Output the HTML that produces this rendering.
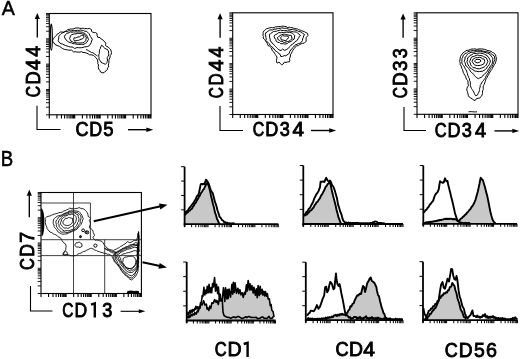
<!DOCTYPE html>
<html><head><meta charset="utf-8"><style>
html,body{margin:0;padding:0;background:#fff;}
svg{display:block;will-change:transform;}
text{font-family:"Liberation Sans",sans-serif;}
</style></head><body>
<svg width="520" height="359" viewBox="0 0 520 359">
<rect width="520" height="359" fill="#fff"/>
<text transform="translate(1.71,15.25) scale(0.9634,1)" font-size="20.35" font-weight="normal" fill="#000" stroke="#000" stroke-width="0.5">A</text>
<text transform="translate(0.77,166.20) scale(0.8765,1)" font-size="21.22" font-weight="normal" fill="#000" stroke="#000" stroke-width="0.6">B</text>
<rect x="49.30" y="13.50" width="101.70" height="101.30" fill="none" stroke="#000" stroke-width="1.1"/>
<path d="M49.30,114.80v3.6 M56.95,114.80v3.6 M61.43,114.80v3.6 M64.61,114.80v3.6 M67.07,114.80v3.6 M69.08,114.80v3.6 M70.79,114.80v3.6 M72.26,114.80v3.6 M73.56,114.80v3.6 M74.72,114.80v3.6 M82.38,114.80v3.6 M86.86,114.80v3.6 M90.03,114.80v3.6 M92.50,114.80v3.6 M94.51,114.80v3.6 M96.21,114.80v3.6 M97.69,114.80v3.6 M98.99,114.80v3.6 M100.15,114.80v3.6 M107.80,114.80v3.6 M112.28,114.80v3.6 M115.46,114.80v3.6 M117.92,114.80v3.6 M119.93,114.80v3.6 M121.64,114.80v3.6 M123.11,114.80v3.6 M124.41,114.80v3.6 M125.58,114.80v3.6 M133.23,114.80v3.6 M137.71,114.80v3.6 M140.88,114.80v3.6 M143.35,114.80v3.6 M145.36,114.80v3.6 M147.06,114.80v3.6 M148.54,114.80v3.6 M149.84,114.80v3.6 M151.00,114.80v3.6" stroke="#000" stroke-width="1.1" fill="none"/>
<path d="M49.30,114.80h-3.3 M49.30,107.18h-3.3 M49.30,102.72h-3.3 M49.30,99.55h-3.3 M49.30,97.10h-3.3 M49.30,95.09h-3.3 M49.30,93.40h-3.3 M49.30,91.93h-3.3 M49.30,90.63h-3.3 M49.30,89.47h-3.3 M49.30,81.85h-3.3 M49.30,77.39h-3.3 M49.30,74.23h-3.3 M49.30,71.77h-3.3 M49.30,69.77h-3.3 M49.30,68.07h-3.3 M49.30,66.60h-3.3 M49.30,65.31h-3.3 M49.30,64.15h-3.3 M49.30,56.53h-3.3 M49.30,52.07h-3.3 M49.30,48.90h-3.3 M49.30,46.45h-3.3 M49.30,44.44h-3.3 M49.30,42.75h-3.3 M49.30,41.28h-3.3 M49.30,39.98h-3.3 M49.30,38.83h-3.3 M49.30,31.20h-3.3 M49.30,26.74h-3.3 M49.30,23.58h-3.3 M49.30,21.12h-3.3 M49.30,19.12h-3.3 M49.30,17.42h-3.3 M49.30,15.95h-3.3 M49.30,14.66h-3.3 M49.30,13.50h-3.3" stroke="#000" stroke-width="0.9" fill="none"/>
<rect x="232.70" y="12.80" width="100.30" height="101.70" fill="none" stroke="#000" stroke-width="1.1"/>
<path d="M232.70,114.50v3.6 M240.25,114.50v3.6 M244.66,114.50v3.6 M247.80,114.50v3.6 M250.23,114.50v3.6 M252.21,114.50v3.6 M253.89,114.50v3.6 M255.34,114.50v3.6 M256.63,114.50v3.6 M257.77,114.50v3.6 M265.32,114.50v3.6 M269.74,114.50v3.6 M272.87,114.50v3.6 M275.30,114.50v3.6 M277.29,114.50v3.6 M278.97,114.50v3.6 M280.42,114.50v3.6 M281.70,114.50v3.6 M282.85,114.50v3.6 M290.40,114.50v3.6 M294.81,114.50v3.6 M297.95,114.50v3.6 M300.38,114.50v3.6 M302.36,114.50v3.6 M304.04,114.50v3.6 M305.49,114.50v3.6 M306.78,114.50v3.6 M307.93,114.50v3.6 M315.47,114.50v3.6 M319.89,114.50v3.6 M323.02,114.50v3.6 M325.45,114.50v3.6 M327.44,114.50v3.6 M329.12,114.50v3.6 M330.57,114.50v3.6 M331.85,114.50v3.6 M333.00,114.50v3.6" stroke="#000" stroke-width="1.1" fill="none"/>
<path d="M232.70,114.50h-3.3 M232.70,106.85h-3.3 M232.70,102.37h-3.3 M232.70,99.19h-3.3 M232.70,96.73h-3.3 M232.70,94.72h-3.3 M232.70,93.01h-3.3 M232.70,91.54h-3.3 M232.70,90.24h-3.3 M232.70,89.08h-3.3 M232.70,81.42h-3.3 M232.70,76.94h-3.3 M232.70,73.77h-3.3 M232.70,71.30h-3.3 M232.70,69.29h-3.3 M232.70,67.59h-3.3 M232.70,66.11h-3.3 M232.70,64.81h-3.3 M232.70,63.65h-3.3 M232.70,56.00h-3.3 M232.70,51.52h-3.3 M232.70,48.34h-3.3 M232.70,45.88h-3.3 M232.70,43.87h-3.3 M232.70,42.16h-3.3 M232.70,40.69h-3.3 M232.70,39.39h-3.3 M232.70,38.22h-3.3 M232.70,30.57h-3.3 M232.70,26.09h-3.3 M232.70,22.92h-3.3 M232.70,20.45h-3.3 M232.70,18.44h-3.3 M232.70,16.74h-3.3 M232.70,15.26h-3.3 M232.70,13.96h-3.3 M232.70,12.80h-3.3" stroke="#000" stroke-width="0.9" fill="none"/>
<rect x="417.00" y="12.80" width="101.00" height="101.50" fill="none" stroke="#000" stroke-width="1.1"/>
<path d="M417.00,114.30v3.6 M424.60,114.30v3.6 M429.05,114.30v3.6 M432.20,114.30v3.6 M434.65,114.30v3.6 M436.65,114.30v3.6 M438.34,114.30v3.6 M439.80,114.30v3.6 M441.09,114.30v3.6 M442.25,114.30v3.6 M449.85,114.30v3.6 M454.30,114.30v3.6 M457.45,114.30v3.6 M459.90,114.30v3.6 M461.90,114.30v3.6 M463.59,114.30v3.6 M465.05,114.30v3.6 M466.34,114.30v3.6 M467.50,114.30v3.6 M475.10,114.30v3.6 M479.55,114.30v3.6 M482.70,114.30v3.6 M485.15,114.30v3.6 M487.15,114.30v3.6 M488.84,114.30v3.6 M490.30,114.30v3.6 M491.59,114.30v3.6 M492.75,114.30v3.6 M500.35,114.30v3.6 M504.80,114.30v3.6 M507.95,114.30v3.6 M510.40,114.30v3.6 M512.40,114.30v3.6 M514.09,114.30v3.6 M515.55,114.30v3.6 M516.84,114.30v3.6 M518.00,114.30v3.6" stroke="#000" stroke-width="1.1" fill="none"/>
<path d="M417.00,114.30h-3.3 M417.00,106.66h-3.3 M417.00,102.19h-3.3 M417.00,99.02h-3.3 M417.00,96.56h-3.3 M417.00,94.55h-3.3 M417.00,92.86h-3.3 M417.00,91.38h-3.3 M417.00,90.09h-3.3 M417.00,88.92h-3.3 M417.00,81.29h-3.3 M417.00,76.82h-3.3 M417.00,73.65h-3.3 M417.00,71.19h-3.3 M417.00,69.18h-3.3 M417.00,67.48h-3.3 M417.00,66.01h-3.3 M417.00,64.71h-3.3 M417.00,63.55h-3.3 M417.00,55.91h-3.3 M417.00,51.44h-3.3 M417.00,48.27h-3.3 M417.00,45.81h-3.3 M417.00,43.80h-3.3 M417.00,42.11h-3.3 M417.00,40.63h-3.3 M417.00,39.34h-3.3 M417.00,38.17h-3.3 M417.00,30.54h-3.3 M417.00,26.07h-3.3 M417.00,22.90h-3.3 M417.00,20.44h-3.3 M417.00,18.43h-3.3 M417.00,16.73h-3.3 M417.00,15.26h-3.3 M417.00,13.96h-3.3 M417.00,12.80h-3.3" stroke="#000" stroke-width="0.9" fill="none"/>
<line x1="37.30" y1="37.50" x2="37.30" y2="18.50" stroke="#000" stroke-width="1.35"/>
<path d="M37.30,13.00L34.70,19.00L39.90,19.00Z" fill="#000"/>
<line x1="220.10" y1="37.80" x2="220.10" y2="18.80" stroke="#000" stroke-width="1.35"/>
<path d="M220.10,13.30L217.50,19.30L222.70,19.30Z" fill="#000"/>
<line x1="403.10" y1="37.80" x2="403.10" y2="19.10" stroke="#000" stroke-width="1.35"/>
<path d="M403.10,13.40L400.50,19.60L405.70,19.60Z" fill="#000"/>
<path d="M37,105.7V129.5H60.5" fill="none" stroke="#000" stroke-width="1.1"/>
<path d="M220,106V130.5H243" fill="none" stroke="#000" stroke-width="1.1"/>
<path d="M404,107V130.5H426" fill="none" stroke="#000" stroke-width="1.1"/>
<line x1="128.00" y1="129.70" x2="146.80" y2="129.70" stroke="#000" stroke-width="1.4"/>
<path d="M153.30,129.70L146.30,127.50L146.30,131.90Z" fill="#000"/>
<line x1="311.00" y1="130.50" x2="329.70" y2="130.50" stroke="#000" stroke-width="1.4"/>
<path d="M336.20,130.50L329.20,128.30L329.20,132.70Z" fill="#000"/>
<line x1="494.50" y1="130.90" x2="512.80" y2="130.90" stroke="#000" stroke-width="1.4"/>
<path d="M519.30,130.90L512.30,128.70L512.30,133.10Z" fill="#000"/>
<text transform="translate(39.86,97.24) rotate(-90) scale(0.8079,1)" font-size="19.35" font-weight="normal" fill="#000" stroke="#000" stroke-width="0.9">C</text>
<text transform="translate(39.86,84.55) rotate(-90) scale(0.9423,1)" font-size="19.35" font-weight="normal" fill="#000" stroke="#000" stroke-width="0.9">D</text>
<text transform="translate(39.86,70.30) rotate(-90) scale(1.0153,1)" font-size="19.35" font-weight="normal" fill="#000" stroke="#000" stroke-width="0.9">4</text>
<text transform="translate(39.86,56.80) rotate(-90) scale(1.0051,1)" font-size="19.35" font-weight="normal" fill="#000" stroke="#000" stroke-width="0.9">4</text>
<text transform="translate(223.16,98.13) rotate(-90) scale(0.7691,1)" font-size="19.92" font-weight="normal" fill="#000" stroke="#000" stroke-width="0.9">C</text>
<text transform="translate(223.16,85.43) rotate(-90) scale(0.8478,1)" font-size="19.92" font-weight="normal" fill="#000" stroke="#000" stroke-width="0.9">D</text>
<text transform="translate(223.16,71.23) rotate(-90) scale(1.0463,1)" font-size="19.92" font-weight="normal" fill="#000" stroke="#000" stroke-width="0.9">4</text>
<text transform="translate(223.16,57.40) rotate(-90) scale(0.9766,1)" font-size="19.92" font-weight="normal" fill="#000" stroke="#000" stroke-width="0.9">4</text>
<text transform="translate(406.64,98.24) rotate(-90) scale(0.7353,1)" font-size="21.04" font-weight="normal" fill="#000" stroke="#000" stroke-width="0.9">C</text>
<text transform="translate(406.64,86.10) rotate(-90) scale(0.8985,1)" font-size="21.04" font-weight="normal" fill="#000" stroke="#000" stroke-width="0.9">D</text>
<text transform="translate(406.64,71.06) rotate(-90) scale(0.8920,1)" font-size="21.04" font-weight="normal" fill="#000" stroke="#000" stroke-width="0.9">3</text>
<text transform="translate(406.64,58.13) rotate(-90) scale(0.8519,1)" font-size="21.04" font-weight="normal" fill="#000" stroke="#000" stroke-width="0.9">3</text>
<text transform="translate(75.54,136.15) scale(0.8790,1)" font-size="20.48" font-weight="normal" fill="#000" stroke="#000" stroke-width="0.9">C</text>
<text transform="translate(89.18,136.15) scale(0.8739,1)" font-size="20.48" font-weight="normal" fill="#000" stroke="#000" stroke-width="0.9">D</text>
<text transform="translate(103.31,136.15) scale(0.9063,1)" font-size="20.48" font-weight="normal" fill="#000" stroke="#000" stroke-width="0.9">5</text>
<text transform="translate(252.74,136.35) scale(0.7787,1)" font-size="20.48" font-weight="normal" fill="#000" stroke="#000" stroke-width="0.9">C</text>
<text transform="translate(265.27,136.35) scale(0.8821,1)" font-size="20.48" font-weight="normal" fill="#000" stroke="#000" stroke-width="0.9">D</text>
<text transform="translate(279.76,136.35) scale(0.8857,1)" font-size="20.48" font-weight="normal" fill="#000" stroke="#000" stroke-width="0.9">3</text>
<text transform="translate(292.58,136.35) scale(1.0078,1)" font-size="20.48" font-weight="normal" fill="#000" stroke="#000" stroke-width="0.9">4</text>
<text transform="translate(434.72,136.75) scale(0.8131,1)" font-size="20.20" font-weight="normal" fill="#000" stroke="#000" stroke-width="0.9">C</text>
<text transform="translate(447.57,136.75) scale(0.8944,1)" font-size="20.20" font-weight="normal" fill="#000" stroke="#000" stroke-width="0.9">D</text>
<text transform="translate(461.76,136.75) scale(0.8981,1)" font-size="20.20" font-weight="normal" fill="#000" stroke="#000" stroke-width="0.9">3</text>
<text transform="translate(474.89,136.75) scale(0.9924,1)" font-size="20.20" font-weight="normal" fill="#000" stroke="#000" stroke-width="0.9">4</text>
<path d="M52.60,40.00 L53.43,38.80 L54.24,37.62 L55.30,36.45 L56.42,35.32 L57.28,34.06 L58.90,33.39 L60.24,31.95 L61.85,32.02 L63.52,32.11 L64.74,31.41 L66.15,31.07 L67.94,29.41 L69.30,29.43 L70.57,29.01 L72.16,28.98 L73.71,28.76 L75.19,28.08 L76.79,27.99 L78.34,27.93 L79.86,28.31 L81.42,28.40 L83.02,28.14 L84.53,28.77 L86.10,28.43 L87.65,28.79 L89.33,28.45 L91.55,29.55 L91.49,31.11 L92.35,32.09 L94.24,32.59 L95.63,32.55 L97.13,33.81 L97.04,35.32 L97.82,37.34 L99.98,37.52 L101.22,39.11 L102.68,39.66 L103.56,40.94 L104.95,42.05 L105.96,43.09 L105.61,44.36 L105.58,45.57 L106.81,46.41 L108.18,47.12 L109.44,48.36 L110.81,49.69 L111.14,51.10 L111.43,52.47 L111.30,54.13 L110.27,55.46 L110.14,56.81 L109.79,58.09 L109.04,59.26 L108.91,60.60 L108.91,62.16 L108.66,63.70 L108.37,65.24 L108.70,66.95 L107.38,68.04 L107.32,69.76 L106.21,70.83 L104.97,71.44 L104.08,72.65 L102.79,72.80 L100.51,72.05 L99.85,70.42 L98.63,68.97 L98.41,67.67 L98.26,66.35 L98.59,64.93 L97.78,63.75 L97.86,62.29 L97.65,60.89 L97.30,59.46 L95.93,57.59 L94.63,56.54 L93.40,55.38 L91.26,54.80 L89.56,54.78 L88.16,53.82 L86.63,53.24 L85.10,52.65 L82.98,52.45 L81.47,51.66 L79.92,52.21 L78.36,52.12 L76.81,52.02 L75.27,51.68 L73.63,52.00 L71.65,50.08 L70.24,50.17 L68.85,50.14 L67.47,49.93 L65.89,49.64 L64.28,49.30 L62.75,48.65 L61.37,47.67 L59.52,46.39 L57.08,45.43 L54.99,44.47 L54.37,43.11 L53.13,42.60 L52.78,41.31Z M58.80,36.40 L59.48,35.24 L60.52,34.38 L61.38,33.53 L62.69,32.77 L64.08,32.24 L65.44,31.47 L67.26,31.78 L68.83,30.78 L70.60,30.80 L71.93,30.91 L73.17,30.22 L74.52,30.52 L75.80,30.54 L77.50,30.30 L79.20,30.42 L80.96,29.91 L82.21,30.43 L83.56,30.49 L84.75,31.28 L86.18,31.17 L87.67,32.27 L88.86,33.47 L89.71,34.97 L90.38,36.57 L91.53,37.93 L92.31,39.50 L91.59,40.99 L91.21,42.61 L90.33,44.24 L89.22,45.77 L87.73,46.46 L86.13,46.79 L84.43,46.90 L83.00,47.45 L81.45,47.70 L79.90,47.80 L78.33,47.67 L76.93,47.58 L74.63,48.46 L73.43,47.55 L72.04,46.92 L70.28,47.05 L68.67,46.49 L67.11,46.00 L65.56,45.57 L64.00,44.84 L62.48,44.02 L61.06,43.75 L59.93,43.02 L58.86,41.94 L58.19,40.60 L58.60,39.23 L58.74,37.82Z M64.40,36.40 L65.32,34.76 L66.58,33.63 L67.89,33.08 L69.25,32.69 L70.56,31.93 L71.90,32.21 L73.18,31.86 L74.51,32.05 L75.80,31.77 L77.50,32.04 L79.20,31.91 L80.82,32.01 L82.31,32.19 L83.60,32.90 L84.86,33.42 L85.68,34.49 L86.82,35.29 L87.35,36.49 L87.89,38.04 L88.57,39.43 L87.58,40.88 L86.94,42.29 L85.54,43.39 L84.00,44.18 L82.66,44.62 L81.24,44.28 L79.94,44.37 L78.53,44.55 L77.18,44.22 L75.84,44.04 L74.44,43.66 L72.94,43.71 L71.67,42.90 L70.12,42.54 L68.68,42.00 L67.26,41.10 L66.08,39.95 L64.81,37.97Z M69.60,38.50 L70.20,36.98 L70.66,35.56 L71.84,34.56 L73.24,34.16 L74.69,33.86 L76.01,33.86 L77.28,33.39 L78.62,33.59 L79.87,33.40 L81.36,33.33 L82.64,34.01 L84.17,34.28 L85.33,35.76 L86.37,37.54 L85.99,39.07 L85.75,40.79 L84.44,41.78 L83.04,42.95 L81.64,42.79 L80.28,43.02 L78.91,43.02 L77.51,42.87 L76.08,42.96 L74.82,42.32 L73.35,42.45 L72.27,41.67 L70.95,41.18 L70.29,39.83Z M73.70,39.50 L74.14,37.71 L75.55,38.00 L76.78,37.41 L78.03,36.90 L79.45,37.07 L81.40,35.09 L83.47,35.41 L84.10,37.07 L82.48,38.94 L81.07,39.17 L79.85,39.76 L78.61,40.36 L77.26,40.37 L75.98,40.74 L74.62,41.15Z M101.60,45.20 L102.82,46.00 L103.62,47.25 L104.68,48.25 L106.13,49.08 L107.46,49.39 L108.09,50.69 L108.64,52.00 L108.62,53.29 L108.72,54.90 L108.11,56.24 L107.25,57.50 L107.21,58.80 L107.57,60.10 L107.20,61.40 L107.12,62.46 L105.26,64.29 L103.88,63.58 L102.41,63.05 L100.98,62.30 L100.55,60.91 L99.36,60.12 L98.95,59.02 L99.01,57.62 L98.87,56.21 L98.72,54.79 L99.36,53.48 L99.27,52.10 L99.49,50.79 L99.69,49.47 L100.43,48.36 L100.84,46.70Z" fill="none" stroke="#000" stroke-width="1.0" stroke-linejoin="round"/>
<path d="M263.10,32.30 L264.02,30.90 L265.19,29.68 L266.57,28.69 L268.21,28.29 L269.74,27.91 L271.28,27.54 L272.73,27.75 L274.13,27.61 L275.43,26.84 L277.05,26.92 L278.57,26.43 L280.15,26.68 L281.57,26.31 L283.18,26.16 L284.73,26.43 L286.30,26.64 L287.76,27.57 L289.22,27.21 L290.59,27.61 L292.00,27.68 L293.34,28.14 L294.71,28.44 L296.04,28.87 L297.57,28.93 L298.77,29.89 L300.26,30.06 L301.56,30.76 L302.98,31.15 L304.37,31.66 L305.84,32.57 L307.43,33.29 L307.99,35.46 L306.22,37.47 L306.08,39.24 L306.18,41.21 L305.25,42.16 L304.31,43.13 L302.65,43.30 L301.10,43.82 L299.64,44.62 L298.30,45.51 L296.44,46.02 L295.05,47.23 L293.95,48.72 L292.86,50.23 L292.21,51.62 L291.61,53.04 L290.60,54.30 L290.48,55.98 L289.98,57.51 L289.47,58.83 L289.80,60.26 L289.44,61.75 L287.30,61.95 L286.00,62.53 L284.50,62.05 L283.16,64.06 L281.56,64.74 L280.24,63.56 L279.01,62.01 L277.31,63.14 L276.48,61.95 L276.48,60.60 L276.79,58.81 L277.00,57.00 L276.14,55.76 L275.30,54.57 L274.50,53.11 L273.61,51.78 L272.41,50.83 L271.82,49.53 L271.47,48.03 L270.42,47.04 L269.32,46.11 L267.91,45.41 L267.34,43.70 L266.50,42.19 L265.53,40.81 L264.48,39.42 L263.16,38.05 L263.56,36.66 L262.89,35.40 L263.21,33.85Z M265.70,32.80 L267.16,32.07 L268.24,30.96 L269.53,30.16 L270.96,29.91 L272.46,30.01 L274.05,29.11 L275.82,29.12 L277.49,28.64 L278.84,28.28 L280.24,28.46 L281.63,27.85 L282.93,28.03 L284.21,28.36 L285.53,28.25 L286.86,28.37 L288.16,28.99 L289.50,29.35 L290.86,29.68 L292.24,29.33 L293.51,29.75 L294.82,29.86 L296.07,30.27 L297.38,30.72 L298.52,31.56 L299.96,31.69 L301.39,32.02 L302.67,33.47 L304.55,34.48 L303.70,35.92 L303.30,37.50 L302.60,38.92 L302.46,40.48 L301.17,42.51 L299.90,43.27 L298.45,43.56 L297.20,44.26 L295.70,44.74 L294.49,45.69 L293.45,47.15 L292.17,48.31 L291.03,49.80 L289.74,51.22 L289.37,52.96 L288.34,54.25 L287.05,54.84 L285.85,55.81 L284.23,55.62 L282.79,56.30 L280.84,56.62 L280.14,54.34 L278.68,53.56 L277.68,52.18 L276.24,51.36 L274.90,50.39 L274.31,49.12 L272.99,48.46 L272.52,47.08 L271.13,46.41 L270.15,45.32 L269.56,43.88 L268.37,42.81 L267.07,41.84 L265.91,40.54 L266.32,38.94 L265.86,37.48 L265.74,36.02 L265.33,34.38Z M269.30,34.40 L270.72,33.61 L271.97,32.57 L273.36,31.60 L274.81,31.36 L276.30,31.24 L277.70,30.73 L279.14,30.44 L280.62,29.92 L281.97,30.55 L283.36,30.51 L284.73,30.73 L286.14,30.55 L287.50,30.97 L288.90,30.81 L290.33,31.17 L291.77,31.45 L293.18,31.88 L294.68,31.92 L296.28,32.06 L297.68,33.05 L298.97,34.19 L300.50,35.58 L299.24,36.45 L298.81,37.81 L297.96,38.86 L297.34,40.29 L296.07,41.07 L294.82,41.87 L293.95,43.02 L292.48,44.19 L290.92,45.22 L290.12,46.42 L289.09,47.39 L288.03,48.43 L286.84,49.39 L284.66,50.38 L282.55,49.05 L281.04,50.56 L278.97,49.93 L277.68,48.62 L276.32,47.38 L275.35,46.28 L274.29,45.28 L273.39,44.11 L272.12,43.32 L271.56,41.81 L270.20,41.02 L270.22,39.18 L269.64,37.49 L269.53,35.94Z M274.40,35.40 L275.79,34.52 L277.38,33.95 L278.58,32.51 L280.14,32.80 L281.64,32.39 L283.19,32.56 L284.69,32.47 L286.27,32.17 L287.82,32.32 L289.38,32.32 L291.01,32.63 L292.44,33.40 L293.67,34.47 L294.65,35.30 L294.60,37.23 L294.09,39.11 L292.65,40.05 L291.37,41.20 L289.83,41.94 L288.54,42.47 L287.40,43.39 L286.07,43.86 L284.72,44.07 L283.38,43.67 L281.98,43.69 L280.57,43.65 L279.42,42.46 L277.67,42.25 L276.22,41.27 L275.73,39.44 L274.53,38.01 L274.16,36.73Z M277.50,37.50 L278.56,36.66 L279.81,36.05 L280.60,34.91 L281.89,34.66 L283.17,34.34 L284.47,34.20 L285.74,34.70 L287.50,34.73 L289.14,35.39 L291.22,35.29 L291.63,36.88 L292.22,38.76 L291.02,39.43 L290.15,40.49 L288.94,41.28 L287.52,41.50 L286.13,41.91 L284.62,42.43 L283.25,42.11 L282.05,41.09 L280.47,41.31 L279.30,40.29 L277.93,39.52Z M280.60,37.50 L281.66,36.72 L282.75,35.59 L284.27,36.01 L285.73,36.11 L287.77,35.91 L288.71,37.74 L286.74,39.46 L285.93,40.86 L283.65,40.21 L281.17,39.65Z" fill="none" stroke="#000" stroke-width="1.0" stroke-linejoin="round"/>
<path d="M459.60,61.50 L459.93,59.84 L460.19,58.16 L460.55,56.53 L461.25,55.12 L462.25,53.88 L463.08,52.65 L464.48,52.04 L465.60,50.91 L466.99,50.26 L468.72,50.21 L470.29,49.43 L471.98,49.01 L473.42,49.08 L474.83,48.84 L476.29,49.28 L477.69,49.24 L479.03,48.93 L480.37,48.87 L481.69,48.91 L483.05,49.11 L484.74,49.39 L486.35,50.05 L487.98,50.55 L489.57,50.89 L491.12,51.32 L492.40,52.31 L493.73,52.88 L494.66,53.90 L495.66,54.97 L495.86,56.45 L496.33,57.88 L496.36,59.41 L496.17,60.79 L495.58,62.10 L495.46,63.48 L494.45,64.53 L493.80,65.84 L492.93,67.00 L492.38,68.27 L491.81,69.52 L490.89,70.58 L490.30,71.84 L489.40,72.93 L488.85,74.21 L487.87,75.77 L487.16,77.48 L486.09,78.66 L485.68,80.17 L485.16,81.60 L484.71,82.98 L484.14,84.32 L483.58,85.62 L483.12,86.88 L483.26,88.22 L483.28,89.54 L482.61,90.75 L482.42,92.16 L482.48,93.62 L482.08,95.09 L480.98,96.61 L479.73,98.10 L478.07,98.24 L476.35,98.77 L475.14,100.53 L473.69,99.97 L472.47,99.05 L470.89,98.09 L469.28,97.06 L468.40,95.76 L468.12,94.17 L467.65,92.77 L467.40,91.41 L466.76,90.10 L466.92,88.71 L467.43,87.04 L468.56,85.57 L468.03,83.91 L468.06,82.14 L467.60,80.40 L466.44,79.23 L465.88,77.76 L465.58,76.16 L464.57,74.95 L463.86,73.59 L463.16,72.22 L462.89,70.85 L462.51,69.53 L461.72,68.37 L461.54,67.00 L460.87,65.68 L460.11,64.38 L460.23,62.83Z M461.80,61.50 L461.97,59.99 L461.93,58.45 L462.80,57.21 L463.04,55.63 L464.21,54.70 L464.99,53.49 L466.46,53.09 L467.63,52.09 L468.96,51.29 L470.47,51.03 L471.96,50.68 L473.50,50.65 L474.89,50.39 L476.31,50.59 L477.71,50.10 L479.31,50.29 L480.91,50.31 L482.41,50.96 L484.11,51.25 L485.77,51.66 L487.46,51.88 L488.86,52.33 L490.28,52.75 L491.32,53.77 L492.76,54.89 L494.34,56.13 L494.60,57.95 L494.99,59.89 L494.14,61.09 L493.61,62.38 L493.70,63.92 L492.57,64.92 L492.15,66.34 L491.18,67.43 L490.36,68.52 L489.82,69.79 L489.01,70.87 L488.54,72.15 L488.04,73.41 L486.99,74.30 L486.24,75.64 L485.81,77.14 L484.96,78.45 L484.14,79.52 L483.44,80.70 L482.43,81.56 L481.71,82.91 L480.98,84.24 L480.15,85.58 L480.23,86.91 L479.64,88.16 L479.61,89.47 L479.41,90.65 L478.84,92.13 L478.12,93.54 L477.49,94.97 L475.80,95.80 L474.86,94.67 L474.36,93.32 L473.77,92.01 L473.02,90.79 L472.23,89.57 L471.46,88.34 L470.84,87.04 L470.39,85.61 L470.39,84.23 L470.36,82.84 L470.16,81.45 L469.46,80.24 L469.51,78.80 L468.64,77.65 L468.55,76.24 L467.57,75.15 L467.53,73.68 L466.94,72.43 L466.61,71.05 L465.90,69.70 L465.09,68.40 L464.51,66.95 L463.55,65.70 L462.58,64.48 L461.93,63.05Z M464.30,61.50 L464.55,60.17 L465.06,58.89 L464.84,57.38 L466.12,56.66 L466.69,55.39 L467.46,54.23 L468.49,53.36 L469.80,53.03 L470.95,52.26 L472.36,52.31 L473.73,52.20 L475.02,51.91 L476.36,51.59 L477.70,51.31 L479.15,51.17 L480.56,51.68 L481.99,51.64 L483.46,52.13 L485.02,52.24 L486.36,52.96 L487.77,53.14 L488.90,53.84 L490.13,54.48 L491.23,56.11 L492.30,57.52 L492.92,58.82 L492.63,60.17 L492.62,61.42 L492.39,62.92 L491.90,64.30 L490.96,65.48 L489.93,66.88 L489.07,68.32 L488.01,69.89 L487.05,71.54 L485.79,72.94 L484.49,74.28 L483.29,74.97 L482.60,76.21 L481.58,77.14 L479.81,77.88 L478.45,78.65 L476.73,77.77 L475.35,76.55 L474.37,75.48 L473.58,74.22 L472.58,73.17 L471.31,72.35 L470.32,71.11 L469.56,69.69 L468.59,68.43 L467.78,67.41 L466.97,66.39 L465.69,65.63 L465.42,64.17 L465.10,62.73Z M466.90,61.50 L467.64,59.83 L467.59,57.91 L469.05,56.82 L470.05,55.40 L471.89,54.74 L473.48,53.40 L474.91,53.62 L476.32,53.59 L477.70,53.18 L479.16,53.03 L480.59,53.23 L482.09,53.35 L483.44,53.77 L484.75,54.28 L485.94,55.07 L487.19,55.60 L487.87,56.82 L488.84,57.57 L489.58,59.35 L490.38,60.94 L490.08,62.22 L489.56,63.44 L489.24,64.57 L488.43,65.87 L487.23,66.83 L486.67,68.45 L485.34,69.38 L484.02,70.34 L482.54,71.22 L481.02,71.36 L479.51,71.56 L478.04,71.67 L476.72,71.19 L475.24,71.23 L473.96,70.56 L472.85,69.64 L471.61,68.91 L470.28,68.19 L469.72,66.95 L468.76,66.06 L468.13,64.96 L467.45,63.25Z M469.40,61.50 L470.28,60.12 L470.72,58.75 L471.54,57.16 L473.04,56.49 L474.60,56.13 L476.10,55.48 L477.73,55.01 L479.30,55.45 L480.91,55.52 L482.41,55.96 L483.61,56.81 L485.08,57.19 L486.44,57.93 L487.15,59.75 L487.86,61.44 L487.05,63.16 L486.46,64.96 L485.43,66.05 L484.24,66.96 L482.95,67.54 L481.33,68.09 L479.73,68.74 L477.98,68.76 L476.45,68.49 L475.03,67.78 L473.28,67.74 L472.41,66.73 L471.36,65.92 L470.58,64.81 L470.35,63.02Z M472.00,61.20 L473.21,59.03 L475.48,57.71 L477.67,57.73 L479.38,57.24 L481.05,57.60 L482.28,58.71 L484.14,59.13 L484.73,61.39 L484.29,62.70 L483.66,64.13 L482.08,64.72 L480.50,65.33 L479.01,65.54 L477.50,65.59 L475.89,65.42 L474.36,64.76 L472.94,62.89Z M474.60,61.00 L475.79,59.66 L477.70,59.38 L480.05,59.51 L480.94,61.09 L479.72,62.16 L477.74,62.86 L475.60,62.40Z" fill="none" stroke="#000" stroke-width="1.0" stroke-linejoin="round"/>
<path d="M45.00,218.50 L46.36,217.17 L48.07,216.32 L49.71,216.10 L51.18,215.36 L52.78,214.66 L54.35,214.10 L55.87,213.66 L57.42,213.40 L58.89,212.70 L60.33,212.48 L62.14,212.18 L63.57,211.14 L65.23,210.70 L66.71,209.92 L68.29,209.23 L69.70,208.11 L71.25,208.58 L72.77,208.39 L74.30,208.74 L75.81,208.45 L77.52,208.35 L79.01,207.54 L80.48,208.25 L81.90,208.52 L83.77,209.02 L85.25,210.16 L86.39,211.39 L87.32,212.79 L87.96,214.56 L88.21,216.49 L89.55,217.25 L90.62,218.62 L89.33,220.49 L90.21,222.14 L90.59,224.02 L89.71,225.67 L89.30,227.71 L91.36,228.94 L92.51,229.89 L93.06,231.26 L93.29,232.65 L93.89,233.95 L94.52,235.46 L92.94,237.26 L93.87,238.93 L95.34,240.33 L96.86,239.90 L98.26,240.27 L99.58,240.78 L100.98,240.99 L102.13,241.60 L103.25,242.92 L103.85,244.54 L105.06,245.69 L106.04,246.81 L106.94,247.95 L107.99,248.76 L109.04,249.29 L110.44,249.51 L111.77,250.11 L113.56,250.42 L114.90,249.71 L116.29,249.09 L117.73,248.25 L119.26,247.62 L120.41,246.42 L121.93,245.94 L123.15,244.85 L124.62,244.13 L126.11,243.09 L127.50,241.54 L129.69,242.69 L131.97,241.94 L133.13,240.77 L134.66,240.60 L136.44,240.79 L136.87,239.20 L137.32,237.62 L137.82,236.04 L137.50,234.61 L138.07,233.33 L138.65,231.98 L138.45,233.30 L138.54,234.59 L138.84,235.88 L138.69,237.19 L138.64,238.50 L138.54,239.81 L138.40,241.11 L138.88,242.40 L138.82,243.70 L138.74,245.00 L138.54,246.30 L138.51,247.61 L138.46,248.92 L138.96,250.23 L139.04,251.54 L138.43,252.84 L139.06,254.16 L138.75,255.46 L138.51,256.77 L138.65,258.08 L138.73,259.39 L138.30,260.69 L138.75,262.01 L138.49,263.33 L138.22,264.65 L138.67,266.01 L138.45,267.34 L138.27,268.67 L138.15,269.98 L137.86,271.72 L137.13,273.32 L136.43,274.98 L135.42,276.52 L134.08,277.58 L132.99,278.89 L131.53,279.93 L129.98,279.34 L128.79,278.33 L127.87,277.07 L126.68,276.13 L125.27,275.43 L124.61,274.16 L123.53,273.30 L122.43,272.44 L121.86,271.13 L120.88,270.05 L120.17,268.82 L119.83,267.33 L118.60,266.23 L117.91,264.72 L116.53,263.78 L115.51,262.83 L114.46,261.91 L113.88,260.66 L113.45,259.39 L112.74,258.18 L112.61,257.09 L111.53,255.69 L110.00,255.00 L108.77,254.24 L107.21,254.33 L106.01,253.43 L104.28,253.45 L102.70,252.67 L101.04,252.42 L99.53,251.72 L97.89,251.50 L96.59,250.52 L94.68,249.99 L93.25,249.03 L91.77,248.31 L90.33,248.48 L88.29,249.47 L86.62,250.27 L85.06,251.19 L83.60,251.52 L82.24,252.14 L81.05,253.09 L79.30,253.50 L77.69,254.16 L76.38,255.41 L74.72,255.71 L73.31,255.92 L71.95,255.72 L70.54,255.77 L69.08,254.96 L67.50,254.89 L65.90,254.85 L64.39,255.42 L62.67,254.27 L63.46,252.99 L64.24,251.72 L65.82,249.80 L65.79,248.08 L66.20,246.70 L65.89,245.14 L65.35,243.88 L63.35,242.53 L61.98,240.46 L61.20,238.90 L60.20,237.63 L58.89,237.10 L57.70,236.31 L55.75,234.67 L54.44,234.39 L53.23,233.85 L51.87,232.64 L50.01,232.09 L49.04,230.99 L48.13,229.84 L47.13,228.79 L46.86,227.10 L46.07,225.59 L45.62,223.99 L45.31,222.63 L45.47,221.23 L45.38,219.85Z M54.30,218.50 L55.76,217.32 L57.31,216.12 L58.89,215.73 L60.45,215.30 L62.19,214.86 L63.52,213.64 L65.01,213.22 L66.38,212.56 L67.83,212.12 L68.96,211.00 L70.51,210.92 L71.82,210.08 L73.20,210.07 L74.52,210.63 L75.81,210.94 L77.28,211.29 L78.82,211.45 L79.80,212.49 L81.17,213.80 L82.00,215.43 L82.44,217.00 L83.27,218.56 L82.67,220.07 L82.22,221.66 L81.71,223.10 L81.06,224.48 L79.98,225.58 L79.11,226.78 L77.83,227.57 L77.18,229.08 L75.53,229.93 L74.01,231.02 L72.35,231.20 L71.00,232.00 L69.63,232.61 L68.33,233.23 L67.04,233.86 L65.60,233.96 L64.23,234.11 L62.87,234.26 L61.53,233.86 L59.86,233.03 L58.19,232.11 L57.37,230.86 L56.57,229.60 L55.61,228.67 L54.78,227.61 L54.02,226.52 L54.00,225.17 L53.21,223.45 L53.23,221.61 L53.45,219.94Z M59.40,219.50 L60.70,218.73 L61.49,217.46 L62.48,216.36 L63.79,215.55 L65.25,215.03 L66.72,214.64 L67.98,213.75 L69.33,213.09 L70.80,212.81 L72.17,213.12 L73.53,212.71 L74.84,212.88 L76.27,214.11 L78.13,214.86 L78.27,216.76 L78.98,218.49 L78.93,219.93 L78.66,221.31 L77.70,222.45 L77.32,223.98 L76.64,225.35 L75.70,226.46 L74.83,227.52 L73.83,228.43 L72.86,229.45 L71.37,229.63 L70.13,230.47 L68.70,230.82 L67.33,230.60 L65.97,230.72 L64.48,231.05 L62.95,230.25 L61.61,229.21 L60.48,227.79 L58.91,226.58 L59.16,224.95 L58.13,223.53 L58.49,222.17 L58.76,220.79Z M61.50,219.50 L62.50,218.44 L63.63,217.50 L64.69,216.66 L65.88,215.66 L67.39,215.54 L68.66,214.60 L70.08,214.76 L71.41,214.31 L72.86,214.21 L74.54,215.07 L75.73,216.42 L76.43,218.16 L76.21,219.92 L75.76,221.85 L74.85,223.55 L73.79,224.56 L72.84,225.67 L71.70,226.44 L70.32,226.94 L69.13,227.92 L67.68,228.42 L66.37,227.82 L64.93,228.18 L63.56,227.74 L62.36,226.65 L61.55,225.42 L60.58,224.12 L60.61,222.64 L61.19,221.11Z M63.60,220.50 L64.72,219.62 L65.50,218.13 L67.05,218.46 L68.30,217.63 L69.61,217.65 L71.21,218.07 L72.86,218.50 L72.54,220.05 L72.69,221.53 L71.90,223.17 L70.74,224.43 L69.25,225.15 L67.73,225.54 L66.16,225.36 L64.78,225.06 L63.59,224.31 L63.00,223.10 L62.93,221.71Z M74.70,245.00 L75.54,243.91 L76.02,242.81 L77.53,242.70 L79.15,241.98 L80.29,242.92 L81.62,243.50 L82.16,246.24 L80.00,247.53 L78.25,246.94 L76.71,247.13 L75.44,246.27Z M63.40,254.50 L64.12,252.22 L65.44,251.30 L67.09,252.18 L67.51,254.59 L66.12,254.84 L64.76,254.74Z M113.50,255.00 L114.52,253.71 L116.07,253.10 L117.53,252.05 L119.08,251.17 L120.50,250.25 L121.98,249.46 L123.27,248.70 L124.75,248.33 L125.97,247.41 L127.36,247.07 L128.74,246.68 L129.99,245.96 L131.38,245.63 L132.55,244.69 L134.00,244.32 L135.80,244.76 L137.87,244.49 L138.01,245.83 L138.11,247.18 L137.61,248.56 L138.18,249.88 L137.98,251.25 L138.07,252.60 L137.86,253.96 L138.18,255.30 L138.21,256.65 L138.66,258.02 L138.00,259.42 L137.95,260.85 L137.99,262.28 L137.76,263.70 L137.86,265.14 L137.71,266.56 L137.55,267.90 L137.18,269.30 L137.07,270.80 L135.95,271.85 L135.21,272.93 L135.04,274.37 L134.46,275.54 L133.57,276.60 L132.57,277.50 L131.25,278.09 L129.75,277.53 L128.36,276.66 L127.09,275.79 L126.13,274.54 L124.89,273.61 L123.96,272.21 L122.61,271.23 L121.30,270.15 L120.95,268.67 L120.09,267.57 L119.14,266.54 L118.02,265.62 L117.24,264.21 L116.37,262.85 L115.44,261.53 L114.33,259.91 L113.77,258.00 L113.85,256.48Z M115.50,254.50 L116.59,253.78 L117.68,253.04 L118.56,252.12 L119.76,251.58 L120.96,251.05 L122.12,250.49 L123.42,249.87 L124.64,249.07 L126.05,248.71 L127.79,248.01 L129.59,247.48 L131.30,246.75 L133.00,245.96 L134.47,245.60 L135.99,245.54 L137.69,245.49 L137.41,246.82 L137.40,248.13 L137.88,249.43 L137.67,250.75 L137.49,252.07 L137.90,253.37 L138.16,254.68 L137.82,256.00 L137.95,257.50 L138.07,259.01 L137.91,260.51 L138.07,262.01 L137.92,263.51 L137.65,265.02 L137.42,266.59 L137.03,268.11 L136.18,269.47 L134.78,270.23 L133.69,271.27 L132.46,272.27 L131.12,272.50 L129.28,272.45 L127.64,271.71 L126.30,270.79 L125.06,269.76 L124.06,268.45 L123.15,267.21 L121.99,266.18 L121.20,264.89 L120.23,263.68 L119.81,262.18 L118.87,260.95 L118.06,259.82 L117.06,258.80 L116.45,257.52 L115.96,256.01Z M56.50,220.00 L57.69,218.90 L58.40,217.32 L59.92,216.51 L61.61,216.01 L62.52,214.91 L63.85,214.62 L64.91,213.81 L66.55,213.45 L68.03,212.73 L69.46,211.69 L70.86,212.01 L72.16,211.60 L73.53,211.37 L74.77,212.10 L76.12,212.37 L77.60,212.40 L78.40,213.60 L79.70,214.30 L80.49,215.50 L81.06,217.21 L80.90,218.97 L80.36,220.26 L80.23,221.64 L80.30,223.19 L79.16,224.33 L78.35,225.68 L77.53,227.03 L76.50,228.14 L75.27,229.00 L74.02,229.83 L72.81,230.76 L71.27,231.01 L70.03,231.99 L68.52,232.19 L67.05,232.57 L65.47,232.65 L64.22,231.94 L62.81,232.19 L61.31,232.04 L59.93,230.74 L58.79,229.33 L57.56,228.49 L57.06,227.23 L56.28,226.04 L56.39,224.48 L55.97,223.00 L55.95,221.45Z M114.50,253.70 L116.07,252.76 L117.24,251.28 L118.56,250.93 L119.68,250.17 L121.03,249.85 L121.98,248.67 L123.27,248.15 L124.53,247.55 L125.92,246.84 L127.51,246.52 L128.75,245.65 L130.06,244.89 L131.50,244.55 L133.02,244.33 L134.27,243.45 L135.60,242.66 L137.68,243.00 L137.76,244.34 L137.96,245.66 L137.99,247.00 L138.26,248.32 L138.07,249.67 L137.78,251.01 L138.26,252.33 L138.26,253.66 L138.12,255.00 L138.08,256.37 L138.35,257.76 L138.09,259.13 L137.82,260.49 L138.30,261.89 L138.20,263.26 L137.66,264.62 L137.50,265.91 L137.68,267.59 L137.24,269.09 L136.42,270.45 L135.64,272.09 L134.43,273.41 L133.22,274.93 L131.49,275.83 L129.90,275.39 L128.43,274.61 L127.25,273.48 L125.84,272.69 L124.70,271.62 L123.69,270.53 L122.57,269.54 L121.72,268.35 L120.55,267.51 L119.98,266.26 L119.14,265.20 L118.58,263.95 L117.42,262.82 L117.08,261.18 L115.91,260.03 L115.60,258.18 L115.13,256.46 L114.98,255.06Z M116.30,255.50 L117.48,254.53 L118.93,253.92 L120.17,253.14 L121.10,251.92 L122.55,251.70 L123.76,251.06 L124.92,250.44 L126.11,249.87 L127.31,249.37 L129.18,248.84 L131.08,248.52 L132.83,247.68 L134.71,247.11 L135.99,247.49 L137.35,247.50 L137.26,248.92 L137.43,250.33 L137.61,251.74 L137.85,253.15 L137.31,254.59 L137.48,256.00 L137.74,257.34 L137.50,258.67 L137.39,260.00 L137.40,261.33 L137.05,262.66 L137.10,263.94 L136.89,265.79 L136.28,267.60 L134.65,268.63 L133.28,270.14 L131.64,270.09 L130.14,271.21 L128.85,270.15 L127.29,269.53 L126.11,268.25 L124.57,267.39 L123.33,266.12 L123.09,264.70 L122.23,263.68 L121.15,262.82 L120.57,261.62 L119.62,260.57 L119.02,259.34 L118.43,258.16 L117.72,256.50Z M119.10,256.40 L120.27,255.67 L121.48,255.03 L122.65,254.30 L123.87,253.73 L125.37,253.74 L126.44,252.98 L128.33,252.66 L130.17,252.15 L132.01,251.61 L133.81,250.71 L135.31,250.70 L136.97,250.99 L137.21,252.38 L137.21,253.79 L136.87,255.21 L137.13,256.60 L137.57,258.04 L137.17,259.52 L136.59,260.97 L136.41,262.47 L136.35,263.90 L135.35,265.40 L134.34,266.73 L132.98,267.86 L131.49,268.89 L129.76,268.49 L127.91,268.44 L126.64,267.83 L125.57,266.92 L124.47,266.02 L123.36,264.83 L122.44,263.51 L121.63,262.08 L120.91,260.29 L120.51,258.34Z M123.00,258.80 L124.80,257.19 L126.66,257.00 L128.40,256.49 L129.70,256.37 L131.00,256.16 L132.34,256.23 L133.72,256.93 L134.90,257.84 L135.25,259.24 L135.78,260.45 L135.75,262.28 L135.42,264.15 L134.50,265.62 L133.16,266.75 L132.12,267.82 L130.74,268.87 L129.28,268.40 L127.68,268.17 L126.07,267.08 L124.71,265.74 L123.76,264.12 L122.63,262.49 L123.08,260.66Z M104.60,248.50 L105.91,248.95 L106.84,250.08 L108.64,250.40 L109.97,251.56 L111.44,252.29 L113.02,252.98 L114.65,252.64 L116.39,252.23 L115.03,251.96 L113.75,251.47 L112.30,251.47 L111.02,250.95 L109.79,250.30 L108.51,249.80 L107.10,249.68 L105.96,248.77Z" fill="none" stroke="#000" stroke-width="0.85" stroke-linejoin="round"/>
<path d="M86.00,49.50 L87.39,50.06 L88.68,50.82 L89.99,51.51 L91.22,52.40 L92.73,52.70 L93.97,53.54 L95.12,54.40 L96.26,55.26 L97.50,56.00 M468.50,111.80 L469.92,111.66 L471.33,111.63 L472.75,111.78 L474.17,111.88 L475.58,111.91 L477.00,111.80" fill="none" stroke="#000" stroke-width="1.0"/>
<circle cx="83.1" cy="230.3" r="1.4" fill="none" stroke="#000" stroke-width="1.0"/>
<circle cx="87.3" cy="232.4" r="1.5" fill="none" stroke="#000" stroke-width="1.0"/>
<circle cx="80.6" cy="236.5" r="0.9" fill="none" stroke="#000" stroke-width="1.0"/>
<circle cx="86.1" cy="232.2" r="1.2" fill="none" stroke="#000" stroke-width="1.0"/>
<circle cx="95.4" cy="245.6" r="1.6" fill="none" stroke="#000" stroke-width="1.0"/>
<circle cx="80.4" cy="236.9" r="0.8" fill="none" stroke="#000" stroke-width="1.0"/>
<ellipse cx="51.3" cy="37.2" rx="1.0" ry="13" fill="none" stroke="#000" stroke-width="1.2"/>
<path d="M41,208 C44.5,210 44.6,220 44.2,228 C43.8,233 43,236 41.5,236.5 Z" fill="#000"/>
<path d="M137.8,252 L137.6,236 C137.8,232 138.4,230.5 139,231 L139.6,238 L139.4,252 Z" fill="#000"/>
<path d="M126.8,293 L127.5,291 L131,290.6 L134,291 L137,290.7 L139,291.3 L139,293 Z" fill="#000"/>
<rect x="41.00" y="192.50" width="100.40" height="101.00" fill="none" stroke="#000" stroke-width="1.1"/>
<path d="M41.00,293.50v3.6 M48.56,293.50v3.6 M52.98,293.50v3.6 M56.11,293.50v3.6 M58.54,293.50v3.6 M60.53,293.50v3.6 M62.21,293.50v3.6 M63.67,293.50v3.6 M64.95,293.50v3.6 M66.10,293.50v3.6 M73.66,293.50v3.6 M78.08,293.50v3.6 M81.21,293.50v3.6 M83.64,293.50v3.6 M85.63,293.50v3.6 M87.31,293.50v3.6 M88.77,293.50v3.6 M90.05,293.50v3.6 M91.20,293.50v3.6 M98.76,293.50v3.6 M103.18,293.50v3.6 M106.31,293.50v3.6 M108.74,293.50v3.6 M110.73,293.50v3.6 M112.41,293.50v3.6 M113.87,293.50v3.6 M115.15,293.50v3.6 M116.30,293.50v3.6 M123.86,293.50v3.6 M128.28,293.50v3.6 M131.41,293.50v3.6 M133.84,293.50v3.6 M135.83,293.50v3.6 M137.51,293.50v3.6 M138.97,293.50v3.6 M140.25,293.50v3.6 M141.40,293.50v3.6" stroke="#000" stroke-width="1.1" fill="none"/>
<path d="M41.00,293.50h-3.3 M41.00,285.90h-3.3 M41.00,281.45h-3.3 M41.00,278.30h-3.3 M41.00,275.85h-3.3 M41.00,273.85h-3.3 M41.00,272.16h-3.3 M41.00,270.70h-3.3 M41.00,269.41h-3.3 M41.00,268.25h-3.3 M41.00,260.65h-3.3 M41.00,256.20h-3.3 M41.00,253.05h-3.3 M41.00,250.60h-3.3 M41.00,248.60h-3.3 M41.00,246.91h-3.3 M41.00,245.45h-3.3 M41.00,244.16h-3.3 M41.00,243.00h-3.3 M41.00,235.40h-3.3 M41.00,230.95h-3.3 M41.00,227.80h-3.3 M41.00,225.35h-3.3 M41.00,223.35h-3.3 M41.00,221.66h-3.3 M41.00,220.20h-3.3 M41.00,218.91h-3.3 M41.00,217.75h-3.3 M41.00,210.15h-3.3 M41.00,205.70h-3.3 M41.00,202.55h-3.3 M41.00,200.10h-3.3 M41.00,198.10h-3.3 M41.00,196.41h-3.3 M41.00,194.95h-3.3 M41.00,193.66h-3.3 M41.00,192.50h-3.3" stroke="#000" stroke-width="0.9" fill="none"/>
<line x1="73.50" y1="192.50" x2="73.50" y2="293.50" stroke="#222" stroke-width="0.85"/>
<line x1="41.00" y1="239.70" x2="141.40" y2="239.70" stroke="#222" stroke-width="0.85"/>
<line x1="41.00" y1="255.60" x2="141.40" y2="255.60" stroke="#222" stroke-width="0.85"/>
<line x1="104.70" y1="239.70" x2="104.70" y2="293.50" stroke="#222" stroke-width="0.85"/>
<path d="M41,203H90.4V239.7" fill="none" stroke="#222" stroke-width="0.85"/>
<line x1="29.30" y1="217.20" x2="29.30" y2="195.20" stroke="#000" stroke-width="1.35"/>
<path d="M29.30,189.40L26.70,195.70L31.90,195.70Z" fill="#000"/>
<path d="M30.5,286V311H52.5" fill="none" stroke="#000" stroke-width="1.1"/>
<line x1="120.60" y1="311.30" x2="139.30" y2="311.30" stroke="#000" stroke-width="1.1"/>
<path d="M145.30,311.30L138.80,309.30L138.80,313.30Z" fill="#000"/>
<text transform="translate(34.05,269.98) rotate(-90) scale(0.8131,1)" font-size="20.20" font-weight="normal" fill="#000" stroke="#000" stroke-width="0.9">C</text>
<text transform="translate(34.05,256.79) rotate(-90) scale(0.8694,1)" font-size="20.20" font-weight="normal" fill="#000" stroke="#000" stroke-width="0.9">D</text>
<text transform="translate(34.05,242.65) rotate(-90) scale(0.9693,1)" font-size="20.20" font-weight="normal" fill="#000" stroke="#000" stroke-width="0.9">7</text>
<text transform="translate(62.26,316.85) scale(0.7608,1)" font-size="20.34" font-weight="normal" fill="#000" stroke="#000" stroke-width="0.9">C</text>
<text transform="translate(74.51,316.85) scale(0.8633,1)" font-size="20.34" font-weight="normal" fill="#000" stroke="#000" stroke-width="0.9">D</text>
<path d="M91.00,304.60 L94.80,303.40 L94.80,317.50" fill="none" stroke="#000" stroke-width="2.4" stroke-linejoin="miter"/>
<text transform="translate(102.16,316.85) scale(0.8918,1)" font-size="20.34" font-weight="normal" fill="#000" stroke="#000" stroke-width="0.9">3</text>
<line x1="93.75" y1="221.25" x2="160.67" y2="206.28" stroke="#000" stroke-width="2"/>
<path d="M167.50,204.75L160.35,209.42L159.04,203.57Z" fill="#000"/>
<line x1="142.50" y1="262.25" x2="160.06" y2="266.10" stroke="#000" stroke-width="2"/>
<path d="M166.90,267.60L158.44,268.82L159.73,262.96Z" fill="#000"/>
<path d="M184.60,224.20 L184.60,215.00 L185.73,214.09 L186.87,212.87 L188.00,212.23 L189.00,210.79 L190.00,210.39 L191.00,209.24 L192.00,208.67 L192.94,206.64 L193.88,205.64 L194.81,203.64 L195.75,202.83 L196.88,200.36 L198.00,198.78 L198.92,196.67 L199.83,195.57 L200.75,193.30 L201.88,192.00 L203.00,189.90 L204.00,188.88 L205.00,186.66 L206.50,183.66 L207.50,182.79 L208.90,186.47 L210.00,190.82 L211.00,195.67 L212.00,199.83 L212.95,204.05 L213.90,207.21 L215.10,212.93 L216.05,215.23 L217.00,218.97 L217.95,220.59 L218.90,223.14 L220.00,224.00 L220.00,224.20Z" fill="#c8c8c8" stroke="none"/>
<path d="M184.60,215.00 L185.73,214.09 L186.87,212.87 L188.00,212.23 L189.00,210.79 L190.00,210.39 L191.00,209.24 L192.00,208.67 L192.94,206.64 L193.88,205.64 L194.81,203.64 L195.75,202.83 L196.88,200.36 L198.00,198.78 L198.92,196.67 L199.83,195.57 L200.75,193.30 L201.88,192.00 L203.00,189.90 L204.00,188.88 L205.00,186.66 L206.50,183.66 L207.50,182.79 L208.90,186.47 L210.00,190.82 L211.00,195.67 L212.00,199.83 L212.95,204.05 L213.90,207.21 L215.10,212.93 L216.05,215.23 L217.00,218.97 L217.95,220.59 L218.90,223.14 L220.00,224.00" fill="none" stroke="#000" stroke-width="1.9" stroke-linejoin="round"/>
<path d="M184.60,212.50 L185.80,211.99 L187.00,211.08 L188.00,210.20 L189.00,208.34 L190.75,206.52 L192.00,204.65 L193.25,203.25 L194.50,200.98 L195.75,199.14 L197.00,195.97 L197.95,195.43 L198.90,193.34 L199.50,190.22 L200.10,187.41 L200.75,184.11 L201.68,183.94 L202.60,184.49 L203.55,183.72 L204.50,184.14 L206.00,179.61 L207.60,181.68 L208.90,184.24 L209.82,187.32 L210.75,189.87 L211.68,191.94 L212.60,192.87 L213.90,197.65 L215.10,202.40 L215.75,203.86 L216.68,207.02 L217.60,210.72 L218.55,213.35 L219.50,216.70 L220.75,217.83 L222.00,220.15 L223.25,220.74 L224.50,222.61 L225.44,222.22 L226.38,223.07 L227.31,222.67 L228.25,223.60 L229.21,223.20 L230.18,223.60 L231.14,223.34 L232.11,223.60 L233.07,223.21 L234.04,223.60 L235.00,223.80" fill="none" stroke="#000" stroke-width="1.9" stroke-linejoin="round"/>
<path d="M303.75,224.00 L303.75,215.30 L305.00,215.45 L306.25,214.68 L307.17,214.38 L308.08,212.81 L309.00,212.32 L310.17,210.51 L311.33,210.25 L312.50,208.59 L313.50,207.49 L314.50,205.27 L315.50,204.27 L316.58,202.23 L317.67,201.61 L318.75,199.75 L319.88,198.43 L321.00,195.68 L322.05,194.45 L323.10,192.30 L324.35,190.02 L325.60,186.89 L326.55,186.06 L327.50,184.15 L328.75,183.49 L330.00,181.01 L330.60,184.32 L331.25,187.96 L332.50,193.59 L333.50,197.37 L334.40,200.86 L335.60,205.56 L336.55,209.94 L337.50,213.33 L338.45,217.16 L339.40,219.64 L340.60,222.88 L341.50,224.00 L341.50,224.00Z" fill="#c8c8c8" stroke="none"/>
<path d="M303.75,215.30 L305.00,215.45 L306.25,214.68 L307.17,214.38 L308.08,212.81 L309.00,212.32 L310.17,210.51 L311.33,210.25 L312.50,208.59 L313.50,207.49 L314.50,205.27 L315.50,204.27 L316.58,202.23 L317.67,201.61 L318.75,199.75 L319.88,198.43 L321.00,195.68 L322.05,194.45 L323.10,192.30 L324.35,190.02 L325.60,186.89 L326.55,186.06 L327.50,184.15 L328.75,183.49 L330.00,181.01 L330.60,184.32 L331.25,187.96 L332.50,193.59 L333.50,197.37 L334.40,200.86 L335.60,205.56 L336.55,209.94 L337.50,213.33 L338.45,217.16 L339.40,219.64 L340.60,222.88 L341.50,224.00" fill="none" stroke="#000" stroke-width="1.9" stroke-linejoin="round"/>
<path d="M303.75,215.00 L305.50,213.78 L306.50,211.95 L307.50,211.39 L308.75,208.84 L310.00,207.91 L311.50,204.78 L313.10,201.93 L314.35,198.31 L315.60,195.80 L316.65,193.86 L317.70,192.64 L318.75,190.60 L320.00,187.19 L320.60,181.69 L321.90,181.77 L323.15,181.34 L324.40,182.12 L325.32,179.69 L326.25,177.78 L327.50,180.46 L328.45,181.47 L329.40,181.02 L330.00,180.53 L330.95,182.00 L331.90,184.82 L332.82,185.80 L333.75,187.70 L334.68,190.21 L335.60,193.53 L336.90,197.94 L338.10,204.80 L339.05,207.39 L340.00,210.99 L340.95,213.07 L341.90,216.13 L342.50,218.70 L343.45,220.98 L344.40,221.87 L345.43,222.66 L346.47,222.55 L347.50,223.09 L348.46,222.51 L349.42,223.34 L350.38,222.76 L351.35,223.39 L352.31,222.84 L353.27,223.40 L354.23,222.99 L355.19,223.40 L356.15,222.73 L357.12,223.40 L358.08,222.98 L359.04,223.40 L360.00,223.11 L360.92,223.40 L361.85,223.10 L362.77,223.40 L363.69,223.10 L364.62,223.40 L365.54,223.02 L366.46,223.40 L367.38,223.13 L368.31,223.40 L369.23,223.10 L370.15,223.40 L371.08,222.89 L372.00,223.40 L373.00,222.21 L374.00,222.31 L375.00,221.35 L376.00,221.61 L377.00,221.90 L378.00,223.21 L379.00,222.87 L380.00,223.40 L381.00,222.86 L382.00,223.40 L383.00,223.14 L384.00,223.40 L385.00,223.50" fill="none" stroke="#000" stroke-width="1.9" stroke-linejoin="round"/>
<path d="M423.80,223.80 L423.80,223.00 L424.90,222.94 L426.00,222.26 L427.00,222.62 L428.00,222.00 L429.00,222.28 L430.00,221.74 L431.00,222.11 L432.00,221.56 L433.00,221.82 L434.00,221.08 L435.00,221.28 L436.00,220.79 L437.00,220.95 L438.00,220.30 L439.00,220.53 L440.00,219.92 L441.00,220.15 L442.00,219.58 L443.00,219.66 L444.00,219.06 L445.00,219.07 L446.00,218.74 L447.00,219.01 L448.00,218.78 L449.00,219.00 L450.00,218.74 L451.00,218.90 L452.00,218.82 L453.00,219.26 L454.00,219.02 L455.00,219.30 L456.00,219.22 L457.30,220.43 L458.60,220.81 L459.55,220.36 L460.50,218.91 L461.70,218.28 L462.90,216.85 L463.95,216.15 L465.00,214.88 L466.05,214.15 L467.10,212.61 L468.20,211.78 L469.30,210.06 L470.30,209.22 L471.30,207.34 L473.00,205.22 L474.50,202.11 L475.60,199.58 L476.60,195.85 L477.70,192.06 L478.70,187.33 L479.50,183.72 L480.20,179.88 L480.70,177.70 L481.30,179.19 L482.20,179.25 L482.90,180.24 L484.00,184.06 L485.00,187.28 L486.10,191.88 L487.20,195.71 L488.30,201.10 L489.30,206.41 L490.40,211.77 L491.40,215.79 L492.50,219.56 L493.50,221.33 L494.55,222.61 L495.60,223.20 L495.60,223.80Z" fill="#c8c8c8" stroke="none"/>
<path d="M423.80,223.00 L424.90,222.94 L426.00,222.26 L427.00,222.62 L428.00,222.00 L429.00,222.28 L430.00,221.74 L431.00,222.11 L432.00,221.56 L433.00,221.82 L434.00,221.08 L435.00,221.28 L436.00,220.79 L437.00,220.95 L438.00,220.30 L439.00,220.53 L440.00,219.92 L441.00,220.15 L442.00,219.58 L443.00,219.66 L444.00,219.06 L445.00,219.07 L446.00,218.74 L447.00,219.01 L448.00,218.78 L449.00,219.00 L450.00,218.74 L451.00,218.90 L452.00,218.82 L453.00,219.26 L454.00,219.02 L455.00,219.30 L456.00,219.22 L457.30,220.43 L458.60,220.81 L459.55,220.36 L460.50,218.91 L461.70,218.28 L462.90,216.85 L463.95,216.15 L465.00,214.88 L466.05,214.15 L467.10,212.61 L468.20,211.78 L469.30,210.06 L470.30,209.22 L471.30,207.34 L473.00,205.22 L474.50,202.11 L475.60,199.58 L476.60,195.85 L477.70,192.06 L478.70,187.33 L479.50,183.72 L480.20,179.88 L480.70,177.70 L481.30,179.19 L482.20,179.25 L482.90,180.24 L484.00,184.06 L485.00,187.28 L486.10,191.88 L487.20,195.71 L488.30,201.10 L489.30,206.41 L490.40,211.77 L491.40,215.79 L492.50,219.56 L493.50,221.33 L494.55,222.61 L495.60,223.20" fill="none" stroke="#000" stroke-width="1.9" stroke-linejoin="round"/>
<path d="M423.75,212.50 L424.69,211.58 L425.62,210.08 L426.56,209.60 L427.50,207.97 L428.53,207.05 L429.57,205.08 L430.60,203.96 L431.85,202.11 L433.10,200.87 L434.05,197.69 L435.00,195.26 L436.25,193.36 L437.50,192.19 L438.75,189.30 L439.40,184.76 L440.00,181.10 L440.95,182.14 L441.90,182.35 L442.82,182.87 L443.75,182.45 L445.00,178.34 L446.25,181.22 L447.50,180.99 L448.10,184.31 L449.40,189.60 L450.32,193.02 L451.25,197.14 L452.18,200.48 L453.10,204.60 L454.05,208.67 L455.00,213.40 L456.50,217.70 L457.50,221.09 L458.50,221.33 L459.50,222.36 L460.75,222.45 L462.00,223.11 L463.00,222.85 L464.00,223.20 L465.00,222.78 L466.00,223.20 L467.00,222.92 L468.00,223.20 L469.00,222.99 L470.00,223.20" fill="none" stroke="#000" stroke-width="1.9" stroke-linejoin="round"/>
<path d="M186.90,320.50 L186.90,316.15 L187.99,317.86 L189.12,315.39 L189.81,317.41 L191.14,314.22 L191.97,315.88 L192.99,313.72 L194.02,315.13 L194.78,312.53 L196.14,314.14 L197.39,310.90 L198.08,311.83 L199.20,306.87 L199.86,308.27 L200.89,303.96 L202.25,304.86 L203.66,300.72 L204.96,305.06 L206.38,304.11 L207.09,309.18 L207.90,307.87 L208.90,310.46 L209.78,306.17 L210.73,308.54 L211.86,302.84 L213.25,303.21 L214.66,299.59 L216.12,302.32 L216.89,300.44 L218.33,304.48 L219.43,298.35 L220.24,300.82 L221.35,299.14 L222.04,301.06 L223.50,287.69 L224.80,301.55 L225.56,287.90 L226.83,298.98 L227.50,289.55 L228.17,298.57 L229.08,289.09 L230.53,297.07 L232.00,284.20 L232.69,294.10 L233.35,282.36 L234.32,292.45 L235.08,282.76 L236.44,293.19 L237.88,288.25 L238.82,293.63 L239.89,289.67 L241.02,294.84 L242.17,292.76 L243.23,297.37 L244.46,292.31 L245.35,294.04 L246.41,284.82 L247.05,291.26 L248.17,280.45 L249.32,289.95 L250.00,283.70 L251.02,290.06 L251.95,285.55 L253.20,293.05 L253.88,287.19 L255.32,295.14 L256.33,288.87 L257.23,297.62 L258.12,285.62 L259.25,295.58 L260.20,286.36 L260.85,294.06 L262.10,289.35 L262.92,295.17 L263.75,291.21 L264.74,295.95 L265.46,291.48 L266.37,296.12 L267.37,293.65 L268.14,298.91 L269.31,298.78 L270.32,305.80 L271.05,304.48 L271.85,310.27 L273.18,311.80 L274.04,317.01 L274.04,320.50Z" fill="#c8c8c8" stroke="none"/>
<path d="M186.90,316.15 L187.99,317.86 L189.12,315.39 L189.81,317.41 L191.14,314.22 L191.97,315.88 L192.99,313.72 L194.02,315.13 L194.78,312.53 L196.14,314.14 L197.39,310.90 L198.08,311.83 L199.20,306.87 L199.86,308.27 L200.89,303.96 L202.25,304.86 L203.66,300.72 L204.96,305.06 L206.38,304.11 L207.09,309.18 L207.90,307.87 L208.90,310.46 L209.78,306.17 L210.73,308.54 L211.86,302.84 L213.25,303.21 L214.66,299.59 L216.12,302.32 L216.89,300.44 L218.33,304.48 L219.43,298.35 L220.24,300.82 L221.35,299.14 L222.04,301.06 L223.50,287.69 L224.80,301.55 L225.56,287.90 L226.83,298.98 L227.50,289.55 L228.17,298.57 L229.08,289.09 L230.53,297.07 L232.00,284.20 L232.69,294.10 L233.35,282.36 L234.32,292.45 L235.08,282.76 L236.44,293.19 L237.88,288.25 L238.82,293.63 L239.89,289.67 L241.02,294.84 L242.17,292.76 L243.23,297.37 L244.46,292.31 L245.35,294.04 L246.41,284.82 L247.05,291.26 L248.17,280.45 L249.32,289.95 L250.00,283.70 L251.02,290.06 L251.95,285.55 L253.20,293.05 L253.88,287.19 L255.32,295.14 L256.33,288.87 L257.23,297.62 L258.12,285.62 L259.25,295.58 L260.20,286.36 L260.85,294.06 L262.10,289.35 L262.92,295.17 L263.75,291.21 L264.74,295.95 L265.46,291.48 L266.37,296.12 L267.37,293.65 L268.14,298.91 L269.31,298.78 L270.32,305.80 L271.05,304.48 L271.85,310.27 L273.18,311.80 L274.04,317.01" fill="none" stroke="#000" stroke-width="1.6" stroke-linejoin="round"/>
<path d="M186.90,313.20 L187.51,314.68 L188.07,312.43 L188.83,314.19 L189.69,310.83 L190.49,313.09 L191.06,310.15 L192.13,312.26 L192.80,309.52 L193.95,311.09 L194.73,308.39 L195.27,309.53 L195.98,306.25 L196.57,308.79 L197.63,306.78 L198.54,310.14 L199.30,307.27 L199.86,307.93 L200.51,302.83 L201.31,302.77 L202.21,295.49 L202.93,296.40 L203.91,287.28 L204.81,295.03 L205.92,289.96 L206.63,293.38 L207.22,286.33 L208.24,292.65 L209.08,284.33 L210.05,292.78 L210.95,287.85 L211.67,292.70 L212.58,283.57 L213.40,287.04 L214.56,277.52 L215.52,291.20 L216.51,284.40 L217.69,293.58 L218.39,287.07 L219.36,299.13 L220.18,294.17 L220.77,300.49 L222.30,300.00 L223.00,312.00 L224.00,315.50 L226.00,316.80 L228.00,317.50 L229.00,317.40 L230.67,318.43 L232.23,317.52 L233.94,316.81 L235.55,317.79 L237.50,316.61 L238.87,316.60 L240.84,317.93 L241.89,318.56 L244.04,317.84 L245.78,316.75 L246.80,317.56 L247.87,316.82 L249.16,316.47 L250.72,317.37 L252.73,317.54 L254.50,317.50 L256.29,317.41 L257.63,318.59 L259.82,318.25 L261.67,317.09 L262.95,317.04 L264.03,318.09 L265.51,318.26 L266.98,318.51 L268.99,316.40 L270.24,318.40 L271.81,318.56 L273.29,316.56" fill="none" stroke="#000" stroke-width="1.6" stroke-linejoin="round"/>
<path d="M306.60,320.20 L306.60,318.50 L307.56,318.93 L308.51,318.08 L309.47,319.52 L310.43,318.49 L311.39,319.48 L312.34,318.52 L313.30,319.60 L314.24,318.77 L315.18,319.60 L316.12,318.81 L317.06,319.26 L318.00,318.55 L318.93,319.50 L319.87,318.57 L320.80,319.45 L321.73,318.25 L322.67,318.85 L323.60,318.19 L324.64,319.18 L325.68,317.45 L326.72,318.85 L327.76,317.30 L328.80,318.00 L329.82,317.01 L330.85,317.59 L331.88,316.41 L332.90,317.17 L333.95,315.35 L335.00,315.59 L336.00,314.78 L337.00,316.07 L338.03,314.59 L339.07,315.57 L340.10,314.12 L341.15,314.88 L342.20,313.67 L343.20,314.76 L344.20,314.49 L345.25,315.00 L346.30,313.35 L347.35,312.89 L348.40,310.27 L349.40,309.68 L350.40,306.18 L351.45,306.47 L352.50,303.77 L353.65,303.30 L354.80,300.19 L356.30,297.07 L357.35,295.23 L358.40,295.48 L359.70,293.63 L361.00,294.04 L362.50,287.78 L363.00,285.97 L364.10,287.06 L365.10,292.10 L366.10,288.14 L367.20,283.30 L368.70,280.84 L369.70,278.40 L370.80,277.45 L371.80,281.00 L372.80,281.51 L374.40,282.94 L375.40,284.97 L376.40,287.08 L377.00,290.88 L378.00,295.04 L379.00,296.18 L380.10,301.48 L380.60,303.12 L381.55,307.19 L382.50,309.70 L383.45,312.93 L384.40,314.15 L385.32,317.30 L386.25,318.14 L387.50,319.75 L387.50,320.20Z" fill="#c8c8c8" stroke="none"/>
<path d="M306.60,318.50 L307.56,318.93 L308.51,318.08 L309.47,319.52 L310.43,318.49 L311.39,319.48 L312.34,318.52 L313.30,319.60 L314.24,318.77 L315.18,319.60 L316.12,318.81 L317.06,319.26 L318.00,318.55 L318.93,319.50 L319.87,318.57 L320.80,319.45 L321.73,318.25 L322.67,318.85 L323.60,318.19 L324.64,319.18 L325.68,317.45 L326.72,318.85 L327.76,317.30 L328.80,318.00 L329.82,317.01 L330.85,317.59 L331.88,316.41 L332.90,317.17 L333.95,315.35 L335.00,315.59 L336.00,314.78 L337.00,316.07 L338.03,314.59 L339.07,315.57 L340.10,314.12 L341.15,314.88 L342.20,313.67 L343.20,314.76 L344.20,314.49 L345.25,315.00 L346.30,313.35 L347.35,312.89 L348.40,310.27 L349.40,309.68 L350.40,306.18 L351.45,306.47 L352.50,303.77 L353.65,303.30 L354.80,300.19 L356.30,297.07 L357.35,295.23 L358.40,295.48 L359.70,293.63 L361.00,294.04 L362.50,287.78 L363.00,285.97 L364.10,287.06 L365.10,292.10 L366.10,288.14 L367.20,283.30 L368.70,280.84 L369.70,278.40 L370.80,277.45 L371.80,281.00 L372.80,281.51 L374.40,282.94 L375.40,284.97 L376.40,287.08 L377.00,290.88 L378.00,295.04 L379.00,296.18 L380.10,301.48 L380.60,303.12 L381.55,307.19 L382.50,309.70 L383.45,312.93 L384.40,314.15 L385.32,317.30 L386.25,318.14 L387.50,319.75" fill="none" stroke="#000" stroke-width="1.9" stroke-linejoin="round"/>
<path d="M306.60,314.70 L307.65,315.07 L308.70,313.42 L309.70,312.85 L310.70,310.70 L312.30,310.91 L313.80,311.33 L315.40,308.65 L316.90,305.07 L318.50,308.82 L320.00,306.65 L321.60,302.17 L322.60,298.89 L324.10,295.81 L324.60,291.85 L325.20,287.17 L326.20,286.65 L327.20,292.29 L328.30,290.39 L329.30,285.21 L330.30,281.80 L331.90,283.80 L333.40,289.28 L334.40,288.29 L335.50,277.60 L336.00,273.46 L336.50,279.56 L337.50,284.27 L338.60,285.91 L339.60,284.08 L340.60,288.98 L341.70,295.07 L342.70,299.43 L343.70,304.80 L344.80,310.86 L345.80,315.57 L347.30,315.15 L349.00,317.78 L350.00,317.06 L351.00,318.83 L352.00,318.19 L353.00,318.22 L354.00,316.94 L355.00,317.20 L356.00,316.90 L357.00,319.04 L358.00,317.61 L359.00,318.31 L360.00,316.84 L361.00,318.77 L362.00,317.97 L363.00,319.25 L364.00,317.53 L365.00,317.86 L366.00,316.19 L367.00,318.22 L368.00,318.01 L369.00,319.04 L370.00,317.69 L371.00,318.37 L372.00,317.10 L373.00,318.70 L374.00,318.04 L375.00,319.27 L376.00,317.68 L377.00,319.13 L378.00,317.45 L379.00,318.72 L380.00,318.25 L381.00,319.57 L382.00,318.70 L383.00,319.45 L384.00,318.32 L385.00,319.04 L386.00,318.06 L387.00,318.95 L388.00,318.56 L389.00,319.47 L390.00,318.28 L391.00,319.60 L392.00,318.97 L392.92,319.60 L393.83,319.12 L394.75,319.60 L395.67,318.59 L396.58,319.60 L397.50,318.89 L398.42,319.60 L399.33,318.89 L400.25,319.60 L401.17,318.87 L402.08,319.60 L403.00,319.50" fill="none" stroke="#000" stroke-width="1.9" stroke-linejoin="round"/>
<path d="M423.60,320.20 L423.60,319.40 L425.00,319.60 L426.00,317.65 L427.00,319.41 L428.00,316.66 L429.00,316.24 L430.05,313.66 L431.10,313.69 L432.30,311.17 L433.50,310.39 L434.47,308.29 L435.43,308.21 L436.40,306.08 L438.00,302.24 L439.60,298.00 L440.55,297.99 L441.50,295.41 L442.65,295.67 L443.80,293.13 L444.90,293.79 L446.00,292.23 L447.00,292.61 L448.00,290.16 L448.90,290.25 L449.80,287.23 L451.20,286.67 L452.30,282.96 L453.30,284.39 L454.50,285.96 L455.50,290.52 L456.50,293.20 L457.60,298.80 L459.20,303.20 L460.70,309.44 L462.30,312.15 L463.90,317.04 L464.95,317.14 L466.00,319.20 L466.00,320.20Z" fill="#c8c8c8" stroke="none"/>
<path d="M423.60,319.40 L425.00,319.60 L426.00,317.65 L427.00,319.41 L428.00,316.66 L429.00,316.24 L430.05,313.66 L431.10,313.69 L432.30,311.17 L433.50,310.39 L434.47,308.29 L435.43,308.21 L436.40,306.08 L438.00,302.24 L439.60,298.00 L440.55,297.99 L441.50,295.41 L442.65,295.67 L443.80,293.13 L444.90,293.79 L446.00,292.23 L447.00,292.61 L448.00,290.16 L448.90,290.25 L449.80,287.23 L451.20,286.67 L452.30,282.96 L453.30,284.39 L454.50,285.96 L455.50,290.52 L456.50,293.20 L457.60,298.80 L459.20,303.20 L460.70,309.44 L462.30,312.15 L463.90,317.04 L464.95,317.14 L466.00,319.20" fill="none" stroke="#000" stroke-width="1.9" stroke-linejoin="round"/>
<path d="M423.30,308.00 L424.50,313.85 L425.90,316.34 L427.50,314.38 L428.75,310.90 L430.00,310.39 L431.00,308.44 L432.00,308.80 L433.15,306.21 L434.30,306.05 L435.40,303.76 L436.50,304.36 L437.50,301.06 L438.50,301.01 L440.00,291.02 L441.10,284.59 L442.50,282.08 L443.80,287.67 L445.00,288.74 L446.30,283.87 L447.50,278.69 L449.00,281.49 L450.20,274.94 L451.20,268.99 L452.20,269.11 L453.30,275.96 L454.40,279.14 L455.50,279.81 L456.50,276.01 L457.20,278.70 L458.60,290.46 L459.65,296.71 L460.70,299.37 L462.30,306.00 L463.90,308.89 L465.00,313.78 L466.00,315.99 L467.50,318.31 L469.20,316.38 L470.60,314.94 L472.40,310.41 L473.50,315.98 L474.50,315.85 L476.25,317.12 L477.19,315.53 L478.12,317.18 L479.06,316.53 L480.00,317.86 L481.00,316.65 L482.00,317.14 L483.00,314.99 L484.00,316.18 L485.00,314.06 L486.25,317.56 L487.19,315.95 L488.12,318.09 L489.06,316.66 L490.00,317.93 L491.00,316.49 L492.00,317.48 L493.00,316.01 L493.90,317.98 L494.80,317.02 L495.70,318.89 L496.60,317.78 L497.50,319.38 L498.50,317.75 L499.50,319.09 L500.50,318.22 L501.50,319.28 L502.50,317.90 L503.67,319.60 L504.83,318.39 L506.00,319.55 L507.00,318.98 L508.00,319.60 L509.00,319.25 L510.00,319.60 L511.00,318.71 L512.00,319.45 L513.00,317.71 L514.08,319.38 L515.17,317.33 L516.25,318.69 L517.50,319.00" fill="none" stroke="#000" stroke-width="1.9" stroke-linejoin="round"/>
<line x1="184.60" y1="166.70" x2="184.60" y2="226.70" stroke="#000" stroke-width="1.8"/>
<line x1="183.70" y1="224.20" x2="278.30" y2="224.20" stroke="#000" stroke-width="1.8"/>
<line x1="181.10" y1="166.70" x2="184.60" y2="166.70" stroke="#000" stroke-width="1"/>
<line x1="181.10" y1="181.07" x2="184.60" y2="181.07" stroke="#000" stroke-width="1"/>
<line x1="181.10" y1="195.45" x2="184.60" y2="195.45" stroke="#000" stroke-width="1"/>
<line x1="181.10" y1="209.82" x2="184.60" y2="209.82" stroke="#000" stroke-width="1"/>
<path d="M184.60,224.20v3 M191.65,224.20v3 M195.78,224.20v3 M198.70,224.20v3 M200.97,224.20v3 M202.83,224.20v3 M204.40,224.20v3 M205.75,224.20v3 M206.95,224.20v3 M208.03,224.20v3 M215.08,224.20v3 M219.20,224.20v3 M222.13,224.20v3 M224.40,224.20v3 M226.25,224.20v3 M227.82,224.20v3 M229.18,224.20v3 M230.38,224.20v3 M231.45,224.20v3 M238.50,224.20v3 M242.63,224.20v3 M245.55,224.20v3 M247.82,224.20v3 M249.68,224.20v3 M251.25,224.20v3 M252.60,224.20v3 M253.80,224.20v3 M254.88,224.20v3 M261.93,224.20v3 M266.05,224.20v3 M268.98,224.20v3 M271.25,224.20v3 M273.10,224.20v3 M274.67,224.20v3 M276.03,224.20v3 M277.23,224.20v3 M278.30,224.20v3" stroke="#000" stroke-width="1" fill="none"/>
<line x1="303.30" y1="165.50" x2="303.30" y2="226.50" stroke="#000" stroke-width="1.8"/>
<line x1="302.40" y1="224.00" x2="403.00" y2="224.00" stroke="#000" stroke-width="1.8"/>
<line x1="299.80" y1="165.50" x2="303.30" y2="165.50" stroke="#000" stroke-width="1"/>
<line x1="299.80" y1="180.12" x2="303.30" y2="180.12" stroke="#000" stroke-width="1"/>
<line x1="299.80" y1="194.75" x2="303.30" y2="194.75" stroke="#000" stroke-width="1"/>
<line x1="299.80" y1="209.38" x2="303.30" y2="209.38" stroke="#000" stroke-width="1"/>
<path d="M303.30,224.00v3 M310.80,224.00v3 M315.19,224.00v3 M318.31,224.00v3 M320.72,224.00v3 M322.70,224.00v3 M324.36,224.00v3 M325.81,224.00v3 M327.08,224.00v3 M328.23,224.00v3 M335.73,224.00v3 M340.12,224.00v3 M343.23,224.00v3 M345.65,224.00v3 M347.62,224.00v3 M349.29,224.00v3 M350.73,224.00v3 M352.01,224.00v3 M353.15,224.00v3 M360.65,224.00v3 M365.04,224.00v3 M368.16,224.00v3 M370.57,224.00v3 M372.55,224.00v3 M374.21,224.00v3 M375.66,224.00v3 M376.93,224.00v3 M378.07,224.00v3 M385.58,224.00v3 M389.97,224.00v3 M393.08,224.00v3 M395.50,224.00v3 M397.47,224.00v3 M399.14,224.00v3 M400.58,224.00v3 M401.86,224.00v3 M403.00,224.00v3" stroke="#000" stroke-width="1" fill="none"/>
<line x1="423.30" y1="165.50" x2="423.30" y2="226.30" stroke="#000" stroke-width="1.8"/>
<line x1="422.40" y1="223.80" x2="517.00" y2="223.80" stroke="#000" stroke-width="1.8"/>
<line x1="419.80" y1="165.50" x2="423.30" y2="165.50" stroke="#000" stroke-width="1"/>
<line x1="419.80" y1="180.07" x2="423.30" y2="180.07" stroke="#000" stroke-width="1"/>
<line x1="419.80" y1="194.65" x2="423.30" y2="194.65" stroke="#000" stroke-width="1"/>
<line x1="419.80" y1="209.23" x2="423.30" y2="209.23" stroke="#000" stroke-width="1"/>
<path d="M423.30,223.80v3 M430.35,223.80v3 M434.48,223.80v3 M437.40,223.80v3 M439.67,223.80v3 M441.53,223.80v3 M443.10,223.80v3 M444.45,223.80v3 M445.65,223.80v3 M446.73,223.80v3 M453.78,223.80v3 M457.90,223.80v3 M460.83,223.80v3 M463.10,223.80v3 M464.95,223.80v3 M466.52,223.80v3 M467.88,223.80v3 M469.08,223.80v3 M470.15,223.80v3 M477.20,223.80v3 M481.33,223.80v3 M484.25,223.80v3 M486.52,223.80v3 M488.38,223.80v3 M489.95,223.80v3 M491.30,223.80v3 M492.50,223.80v3 M493.57,223.80v3 M500.63,223.80v3 M504.75,223.80v3 M507.68,223.80v3 M509.95,223.80v3 M511.80,223.80v3 M513.37,223.80v3 M514.73,223.80v3 M515.93,223.80v3 M517.00,223.80v3" stroke="#000" stroke-width="1" fill="none"/>
<line x1="186.70" y1="262.00" x2="186.70" y2="323.00" stroke="#000" stroke-width="1.8"/>
<line x1="185.80" y1="320.50" x2="275.50" y2="320.50" stroke="#000" stroke-width="1.8"/>
<line x1="183.20" y1="262.00" x2="186.70" y2="262.00" stroke="#000" stroke-width="1"/>
<line x1="183.20" y1="276.62" x2="186.70" y2="276.62" stroke="#000" stroke-width="1"/>
<line x1="183.20" y1="291.25" x2="186.70" y2="291.25" stroke="#000" stroke-width="1"/>
<line x1="183.20" y1="305.88" x2="186.70" y2="305.88" stroke="#000" stroke-width="1"/>
<path d="M186.70,320.50v3 M193.38,320.50v3 M197.29,320.50v3 M200.07,320.50v3 M202.22,320.50v3 M203.97,320.50v3 M205.46,320.50v3 M206.75,320.50v3 M207.88,320.50v3 M208.90,320.50v3 M215.58,320.50v3 M219.49,320.50v3 M222.27,320.50v3 M224.42,320.50v3 M226.17,320.50v3 M227.66,320.50v3 M228.95,320.50v3 M230.08,320.50v3 M231.10,320.50v3 M237.78,320.50v3 M241.69,320.50v3 M244.47,320.50v3 M246.62,320.50v3 M248.37,320.50v3 M249.86,320.50v3 M251.15,320.50v3 M252.28,320.50v3 M253.30,320.50v3 M259.98,320.50v3 M263.89,320.50v3 M266.67,320.50v3 M268.82,320.50v3 M270.57,320.50v3 M272.06,320.50v3 M273.35,320.50v3 M274.48,320.50v3 M275.50,320.50v3" stroke="#000" stroke-width="1" fill="none"/>
<line x1="305.80" y1="262.20" x2="305.80" y2="322.70" stroke="#000" stroke-width="1.8"/>
<line x1="304.90" y1="320.20" x2="403.00" y2="320.20" stroke="#000" stroke-width="1.8"/>
<line x1="302.30" y1="262.20" x2="305.80" y2="262.20" stroke="#000" stroke-width="1"/>
<line x1="302.30" y1="276.70" x2="305.80" y2="276.70" stroke="#000" stroke-width="1"/>
<line x1="302.30" y1="291.20" x2="305.80" y2="291.20" stroke="#000" stroke-width="1"/>
<line x1="302.30" y1="305.70" x2="305.80" y2="305.70" stroke="#000" stroke-width="1"/>
<path d="M305.80,320.20v3 M313.12,320.20v3 M317.39,320.20v3 M320.43,320.20v3 M322.78,320.20v3 M324.71,320.20v3 M326.34,320.20v3 M327.75,320.20v3 M328.99,320.20v3 M330.10,320.20v3 M337.42,320.20v3 M341.69,320.20v3 M344.73,320.20v3 M347.08,320.20v3 M349.01,320.20v3 M350.64,320.20v3 M352.05,320.20v3 M353.29,320.20v3 M354.40,320.20v3 M361.72,320.20v3 M365.99,320.20v3 M369.03,320.20v3 M371.38,320.20v3 M373.31,320.20v3 M374.94,320.20v3 M376.35,320.20v3 M377.59,320.20v3 M378.70,320.20v3 M386.02,320.20v3 M390.29,320.20v3 M393.33,320.20v3 M395.68,320.20v3 M397.61,320.20v3 M399.24,320.20v3 M400.65,320.20v3 M401.89,320.20v3 M403.00,320.20v3" stroke="#000" stroke-width="1" fill="none"/>
<line x1="423.00" y1="261.70" x2="423.00" y2="322.70" stroke="#000" stroke-width="1.8"/>
<line x1="422.10" y1="320.20" x2="517.50" y2="320.20" stroke="#000" stroke-width="1.8"/>
<line x1="419.50" y1="261.70" x2="423.00" y2="261.70" stroke="#000" stroke-width="1"/>
<line x1="419.50" y1="276.32" x2="423.00" y2="276.32" stroke="#000" stroke-width="1"/>
<line x1="419.50" y1="290.95" x2="423.00" y2="290.95" stroke="#000" stroke-width="1"/>
<line x1="419.50" y1="305.57" x2="423.00" y2="305.57" stroke="#000" stroke-width="1"/>
<path d="M423.00,320.20v3 M430.11,320.20v3 M434.27,320.20v3 M437.22,320.20v3 M439.51,320.20v3 M441.38,320.20v3 M442.97,320.20v3 M444.34,320.20v3 M445.54,320.20v3 M446.62,320.20v3 M453.74,320.20v3 M457.90,320.20v3 M460.85,320.20v3 M463.14,320.20v3 M465.01,320.20v3 M466.59,320.20v3 M467.96,320.20v3 M469.17,320.20v3 M470.25,320.20v3 M477.36,320.20v3 M481.52,320.20v3 M484.47,320.20v3 M486.76,320.20v3 M488.63,320.20v3 M490.22,320.20v3 M491.59,320.20v3 M492.79,320.20v3 M493.88,320.20v3 M500.99,320.20v3 M505.15,320.20v3 M508.10,320.20v3 M510.39,320.20v3 M512.26,320.20v3 M513.84,320.20v3 M515.21,320.20v3 M516.42,320.20v3 M517.50,320.20v3" stroke="#000" stroke-width="1" fill="none"/>
<text transform="translate(214.82,356.35) scale(0.8019,1)" font-size="20.48" font-weight="normal" fill="#000" stroke="#000" stroke-width="0.9">C</text>
<text transform="translate(227.44,356.35) scale(0.9563,1)" font-size="20.48" font-weight="normal" fill="#000" stroke="#000" stroke-width="0.9">D</text>
<path d="M243.70,344.00 L247.60,342.80 L247.60,357.00" fill="none" stroke="#000" stroke-width="2.4" stroke-linejoin="miter"/>
<text transform="translate(335.53,356.35) scale(0.8806,1)" font-size="20.62" font-weight="normal" fill="#000" stroke="#000" stroke-width="0.9">C</text>
<text transform="translate(348.96,356.35) scale(0.9416,1)" font-size="20.62" font-weight="normal" fill="#000" stroke="#000" stroke-width="0.9">D</text>
<text transform="translate(363.37,356.35) scale(1.0201,1)" font-size="20.62" font-weight="normal" fill="#000" stroke="#000" stroke-width="0.9">4</text>
<text transform="translate(444.84,356.85) scale(0.8670,1)" font-size="20.76" font-weight="normal" fill="#000" stroke="#000" stroke-width="0.9">C</text>
<text transform="translate(458.67,356.85) scale(0.9270,1)" font-size="20.76" font-weight="normal" fill="#000" stroke="#000" stroke-width="0.9">D</text>
<text transform="translate(473.97,356.85) scale(0.9346,1)" font-size="20.76" font-weight="normal" fill="#000" stroke="#000" stroke-width="0.9">5</text>
<text transform="translate(486.05,356.85) scale(0.9499,1)" font-size="20.76" font-weight="normal" fill="#000" stroke="#000" stroke-width="0.9">6</text>
</svg></body></html>
